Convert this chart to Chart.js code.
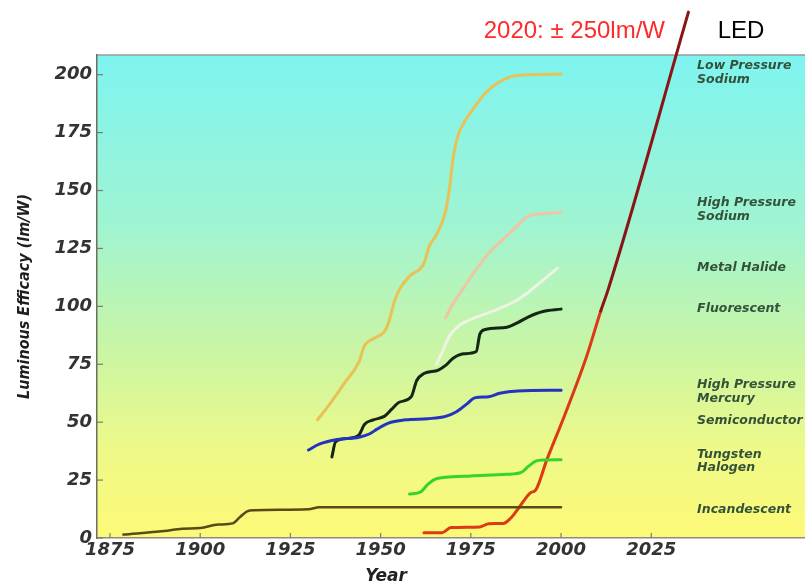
<!DOCTYPE html>
<html><head><meta charset="utf-8">
<script src="https://cdn.jsdelivr.net/npm/chart.js@4/dist/chart.umd.min.js"></script>
<style>html,body{margin:0;padding:0;background:#fff;overflow:hidden}canvas{display:block}</style>
</head><body>
<canvas id="c" width="805" height="583"></canvas>
<script>
// ---- data (year, lm/W) ----
const yearTicks = [1875, 1900, 1925, 1950, 1975, 2000, 2025];
const efficacyTicks = [0, 25, 50, 75, 100, 125, 150, 175, 200];

const incandescent = [[1878.7,1.5],[1890,3],[1895,4],[1900,4.3],[1905,5.8],[1909,6.3],[1911,9],[1913,11.5],[1915,12],[1930,12.4],[1933,13.3],[2000,13.3]];
const tungstenHalogen = [[1958,19],[1961,19.8],[1963,23],[1965,25.3],[1968,26.2],[1975,26.8],[1985,27.5],[1989,28.3],[1991,31],[1993,33.2],[1995,33.7],[2000,33.8]];
const highPressureMercury = [[1930,38],[1933,40.5],[1938,42.5],[1944,43.5],[1947,45],[1949,47],[1952,49.5],[1957,51],[1963,51.5],[1968,52.5],[1971,54.5],[1974,58],[1976,60.5],[1980,61],[1983,62.5],[1988,63.5],[2000,63.8]];
const fluorescent = [[1936.5,35],[1937.5,41.5],[1941,43],[1944,44.5],[1945.5,49],[1948,51],[1951,52.5],[1953,55.5],[1955,58.5],[1958.5,61],[1960,68],[1962,71],[1966,72.5],[1968,74.5],[1970,77.5],[1973,79.5],[1976.5,80.5],[1977.5,88],[1979,90],[1985,91],[1988,93],[1991,95.5],[1995,97.8],[2000,98.8]];
const metalHalide = [[1965.5,75],[1967,80],[1969,87],[1972,92],[1976,95],[1982,98.5],[1987,102],[1990,105],[1994,110],[1999,116.5]];
const highPressureSodium = [[1968,95],[1970,101],[1973,108],[1977,117],[1980,123],[1984,129],[1988,135],[1991,139],[1995,140],[2000,140.5]];
const lowPressureSodium = [[1932.5,51],[1936,58],[1940,67],[1944,76],[1945.5,83],[1948,86],[1951,89],[1952,92],[1954,103],[1955.5,108],[1958,113],[1962,118.5],[1963.5,126],[1965.5,131],[1968,141],[1969,150],[1970,163],[1971.5,174],[1973,179],[1976,186],[1979,192],[1982,196],[1987,199.5],[1992,200],[2000,200.3]];
const led = [[1962,2.3],[1967,2.3],[1969.5,4.5],[1977.5,4.8],[1980,6.2],[1984,6.3],[1986,8.5],[1988.5,13.5],[1991.5,19.5],[1993,20.8],[1996,33.5],[2001,53],[2007,78],[2011,98],[2013,107],[2035.3,227]];

const seriesLabels = ['Low Pressure Sodium','High Pressure Sodium','Metal Halide','Fluorescent','High Pressure Mercury','Semiconductor','Tungsten Halogen','Incandescent'];
const ledNote = '2020: ± 250lm/W';
const ledName = 'LED';

const pts = a => a.map(p => ({x: p[0], y: p[1]}));
function ds(label, arr, color, w) {
  return {label, data: pts(arr), borderColor: color, borderWidth: w, pointRadius: 0,
    fill: false, cubicInterpolationMode: 'monotone', borderCapStyle: 'round', borderJoinStyle: 'round'};
}

const bgPlugin = {
  id: 'bg',
  beforeDraw(chart) {
    const {ctx, chartArea: a} = chart;
    ctx.save();
    ctx.fillStyle = '#ffffff';
    ctx.fillRect(0, 0, chart.width, chart.height);
    const g = ctx.createLinearGradient(0, a.top, 0, a.bottom);
    g.addColorStop(0, '#7ef4f0');
    g.addColorStop(0.35, '#9ff4d2');
    g.addColorStop(0.6, '#c8f5a6');
    g.addColorStop(0.82, '#eef988');
    g.addColorStop(1, '#fdf977');
    ctx.fillStyle = g;
    ctx.fillRect(a.left, a.top, a.right - a.left, a.bottom - a.top);
    ctx.strokeStyle = '#9a9a9a';
    ctx.lineWidth = 1.5;
    ctx.beginPath(); ctx.moveTo(a.left, a.top); ctx.lineTo(a.right, a.top); ctx.stroke();
    ctx.restore();
  },
  beforeDatasetsDraw(chart) {
    const {ctx, chartArea: a, scales: {x, y}} = chart;
    ctx.save();
    ctx.strokeStyle = '#7a7a70';
    ctx.lineWidth = 1.2;
    y.ticks.forEach((t, i) => {
      const py = y.getPixelForTick(i);
      ctx.beginPath(); ctx.moveTo(a.left, py); ctx.lineTo(a.left + 6, py); ctx.stroke();
    });
    x.ticks.forEach((t, i) => {
      const px = x.getPixelForTick(i);
      ctx.beginPath(); ctx.moveTo(px, a.bottom); ctx.lineTo(px, a.bottom - 5); ctx.stroke();
    });
    ctx.restore();
  },
  afterDraw(chart) {
    const {ctx, scales: {x, y}} = chart;
    ctx.save();
    ctx.font = 'italic bold 12.5px "DejaVu Sans"';
    ctx.fillStyle = '#34523a';
    ctx.textBaseline = 'middle';
    ctx.textAlign = 'left';
    const lx = x.getPixelForValue(2037.7);
    const anchors = [[203.8,197.8],[144.6,138.6],[116.6],[98.9],[66.1,60.0],[50.5],[35.8,30.2],[12.1]];
    const lines = [['Low Pressure','Sodium'],['High Pressure','Sodium'],['Metal Halide'],['Fluorescent'],['High Pressure','Mercury'],['Semiconductor'],['Tungsten','Halogen'],['Incandescent']];
    lines.forEach((ls, i) => ls.forEach((t, j) => ctx.fillText(t, lx, y.getPixelForValue(anchors[i][j]))));
    ctx.font = '24px "Liberation Sans", Arial, sans-serif';
    ctx.fillStyle = '#ff2a2a';
    ctx.textAlign = 'right';
    ctx.fillText(ledNote, x.getPixelForValue(2028.8), y.getPixelForValue(218.5));
    ctx.fillStyle = '#000000';
    ctx.textAlign = 'left';
    ctx.fillText(ledName, x.getPixelForValue(2043.4), y.getPixelForValue(218.5));
    ctx.font = 'italic bold 17px "DejaVu Sans"';
    ctx.fillStyle = '#222222';
    ctx.textAlign = 'center';
    ctx.fillText('Year', x.getPixelForValue(1951.5), 577);
    ctx.restore();
  }
};

const tickFont = {family: '"DejaVu Sans"', size: 18, weight: 'bold', style: 'italic', lineHeight: 1};

new Chart(document.getElementById('c'), {
  type: 'line',
  data: {
    datasets: [
      ds(seriesLabels[7], incandescent, '#5a4a18', 2.5),
      ds(seriesLabels[6], tungstenHalogen, '#35d42a', 3),
      ds(seriesLabels[4], highPressureMercury, '#2434c0', 3),
      ds(seriesLabels[2], metalHalide, '#eef4e4', 3),
      ds(seriesLabels[1], highPressureSodium, '#efc6a4', 3),
      ds(seriesLabels[0], lowPressureSodium, '#e8c257', 3),
      ds(seriesLabels[3], fluorescent, '#142614', 3),
      Object.assign(ds(seriesLabels[5], led, '#dc3a14', 3), {
        clip: false,
        segment: {borderColor: c => c.p0.parsed.x >= 2010 ? '#8a1416' : '#dc3a14'}
      })
    ]
  },
  options: {
    responsive: false,
    devicePixelRatio: 1,
    animation: false,
    layout: {padding: {top: 55, right: 0, left: 0, bottom: 0}},
    plugins: {legend: {display: false}, tooltip: {enabled: false}},
    scales: {
      x: {
        type: 'linear', min: 1871.4, max: 2067.6,
        ticks: {stepSize: 25, padding: 3, color: '#333333', font: tickFont, maxRotation: 0, callback: v => String(v)},
        afterBuildTicks: s => { s.ticks = yearTicks.map(v => ({value: v})); },
        afterFit: s => { s.height = 45; },
        grid: {display: false, drawTicks: false},
        border: {display: true, color: '#8c8c84', width: 1.5}
      },
      y: {
        type: 'linear', min: 0, max: 208.5,
        ticks: {stepSize: 25, padding: 5, color: '#333333', font: tickFont},
        afterBuildTicks: s => { s.ticks = efficacyTicks.map(v => ({value: v})); },
        afterFit: s => { s.width = 97; },
        grid: {display: false, drawTicks: false},
        border: {display: true, color: '#6e6e60', width: 1.5},
        title: {display: true, text: 'Luminous Efficacy (lm/W)', color: '#1e1e1e',
          font: {family: '"Liberation Sans Narrow", "DejaVu Sans Condensed", sans-serif', size: 16, weight: 'bold', style: 'italic'},
          padding: {top: 15, bottom: 0}}
      }
    }
  },
  plugins: [bgPlugin]
});
</script>
</body></html>
